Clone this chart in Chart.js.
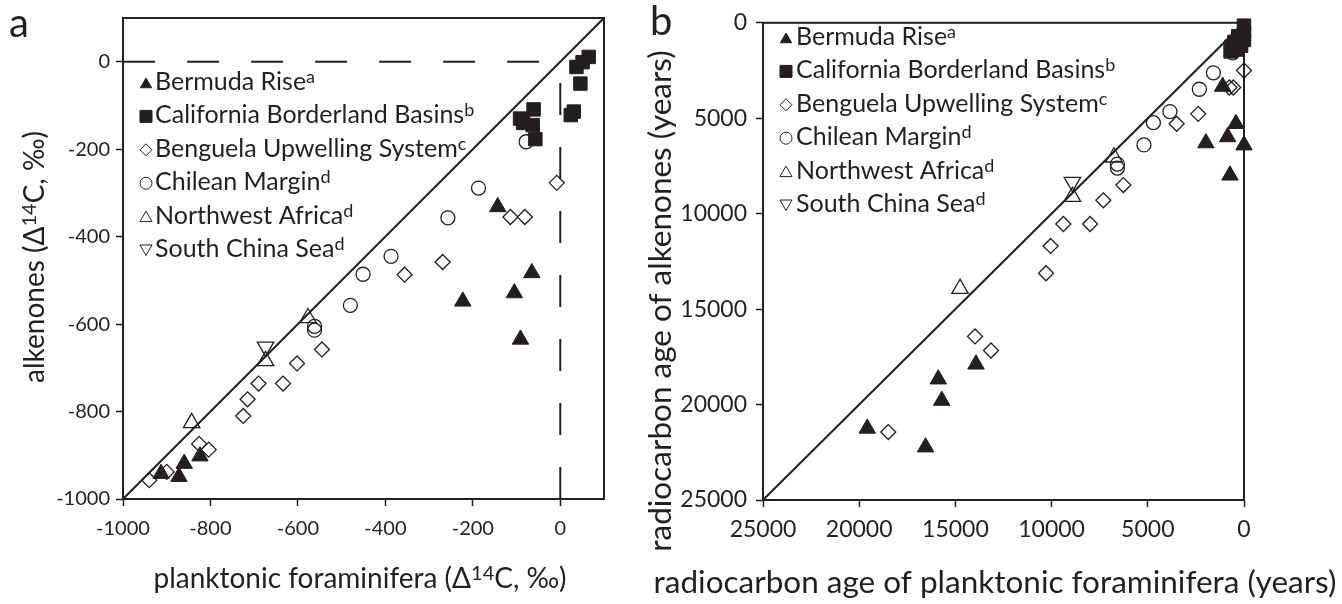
<!DOCTYPE html>
<html><head><meta charset="utf-8">
<script src="https://cdn.jsdelivr.net/npm/chart.js@4.4.1/dist/chart.umd.min.js"></script>
<style>
html,body{margin:0;padding:0;background:#fff;width:1342px;height:604px;overflow:hidden}
canvas{position:absolute;top:0}
#ca{left:0}
#cb{left:620px}
</style></head><body>
<canvas id="ca" width="620" height="604"></canvas>
<canvas id="cb" width="722" height="604"></canvas>
<script>
// ---------- data ----------
const seriesNames = ['Bermuda Rise^{a}', 'California Borderland Basins^{b}', 'Benguela Upwelling System^{c}',
  'Chilean Margin^{d}', 'Northwest Africa^{d}', 'South China Sea^{d}'];

// panel a (Δ14C, ‰)
const xTicksA = [-1000, -800, -600, -400, -200, 0];
const yTicksA = [-1000, -800, -600, -400, -200, 0];
const rangeA = [-1000, 100];
const oneToOneA = [-1000, 100];
const zeroLineA = [-1000, 0];
const bermudaA = [[-913,-942],[-872,-949],[-860,-919],[-824,-902],[-143,-332],[-65,-483],[-105,-529],[-223,-548],[-91,-635]];
const californiaA = [[65,11],[37,-12],[51,-1],[46,-50],[31,-114],[24,-122],[-61,-109],[-92,-130],[-85,-140],[-63,-145],[-57,-177]];
const benguelaA = [[-940,-957],[-900,-938],[-826,-874],[-804,-887],[-725,-810],[-715,-772],[-690,-736],[-634,-736],[-602,-690],[-545,-658],[-356,-487],[-269,-458],[-114,-355],[-81,-355],[-8,-277]];
const chileanA = [[-562,-605],[-562,-614],[-480,-557],[-451,-486],[-387,-445],[-257,-357],[-187,-289],[-78,-183]];
const nwAfricaA = [[-843,-826],[-674,-684],[-577,-586]];
const southChinaA = [[-674,-652]];

// panel b (radiocarbon age, years)
const xTicksB = [25000, 20000, 15000, 10000, 5000, 0];
const yTicksB = [0, 5000, 10000, 15000, 20000, 25000];
const rangeB = [0, 25000];
const oneToOneB = [25000, 0];
const bermudaB = [[13930,17890],[15890,18670],[15710,19790],[19580,21250],[16550,22230],[1110,3340],[420,5290],[850,5980],[1980,6300],[0,6410],[730,7990]];
const californiaB = [[0,150],[0,500],[0,900],[150,1200],[300,700],[500,1000],[650,1250],[700,1500],[400,1400],[200,1000]];
const benguelaB = [[0,2500],[760,3390],[560,3390],[2380,4770],[3500,5290],[6270,8500],[7310,9300],[8000,10540],[9390,10540],[10050,11690],[10290,13120],[13980,16430],[13150,17170],[18490,21440]];
const chileanB = [[590,1580],[1590,2620],[2320,3480],[3850,4650],[4710,5230],[5200,6400],[6580,7400],[6580,7610]];
const nwAfricaB = [[6760,7045],[8920,9110],[14760,13930]];
const southChinaB = [[8920,8350]];

// texts
const panelLetters = ['a', 'b'];
const xTitleA = 'planktonic foraminifera (Δ^{14}C, ‰)';
const yTitleA = 'alkenones (Δ^{14}C, ‰)';
const xTitleB = 'radiocarbon age of planktonic foraminifera (years)';
const yTitleB = 'radiocarbon age of alkenones (years)';

// ---------- styling ----------
const FONT = 'Lato, "Open Sans", sans-serif';
const INK = '#231f20';
const LEG_FS = 25;
Chart.defaults.font.family = FONT;
Chart.defaults.color = INK;

const markerStyles = [
  {pointStyle:'triangle', radius:9.5, rotation:0, fill:INK, bw:1, legendR:6.5, dy:1.5},
  {pointStyle:'rect', radius:9.5, rotation:0, fill:INK, bw:1, legendR:8.5, dy:0},
  {pointStyle:'rectRot', radius:7.5, rotation:0, fill:'rgba(0,0,0,0)', bw:1.3, legendR:6, dy:0},
  {pointStyle:'circle', radius:7, rotation:0, fill:'rgba(0,0,0,0)', bw:1.3, legendR:6, dy:0},
  {pointStyle:'triangle', radius:9.5, rotation:0, fill:'rgba(0,0,0,0)', bw:1.3, legendR:7, dy:1.5},
  {pointStyle:'triangle', radius:9.5, rotation:180, fill:'rgba(0,0,0,0)', bw:1.3, legendR:7, dy:-1.5}
];

const toPts = arr => arr.map(([x, y]) => ({x, y}));

function scatterSets(seriesArrays) {
  return seriesArrays.map((arr, i) => {
    const s = markerStyles[i];
    return {
      label: seriesNames[i].replace(/\^\{[^}]*\}/g, ''),
      data: toPts(arr),
      showLine: false,
      pointStyle: s.pointStyle,
      pointRadius: s.radius,
      pointRotation: s.rotation,
      pointBackgroundColor: s.fill,
      pointBorderColor: INK,
      pointBorderWidth: s.bw,
      pointHoverRadius: s.radius,
      clip: false
    };
  });
}

function lineSet(pts, dash) {
  return {
    type: 'line', label: '', data: pts, showLine: true, pointRadius: 0, pointHoverRadius: 0,
    borderColor: INK, borderWidth: 2, borderDash: dash || [], fill: false, tension: 0
  };
}

// ---------- rich text ----------
function parseRich(s) {
  const parts = []; const re = /\^\{([^}]*)\}/g; let last = 0, m;
  while ((m = re.exec(s))) {
    if (m.index > last) parts.push({t: s.slice(last, m.index), sup: false});
    parts.push({t: m[1], sup: true}); last = re.lastIndex;
  }
  if (last < s.length) parts.push({t: s.slice(last), sup: false});
  return parts;
}
function drawRich(ctx, s, x, y, size, align, rot) {
  const parts = parseRich(s);
  const supSize = Math.round(size * 0.7);
  let w = 0;
  parts.forEach(p => { ctx.font = (p.sup ? supSize : size) + 'px ' + FONT; p.w = ctx.measureText(p.t).width; w += p.w; });
  ctx.save();
  ctx.translate(x, y); ctx.rotate(rot || 0);
  let cx = align === 'center' ? -w / 2 : (align === 'right' ? -w : 0);
  ctx.fillStyle = INK; ctx.textBaseline = 'alphabetic'; ctx.textAlign = 'left';
  parts.forEach(p => {
    ctx.font = (p.sup ? supSize : size) + 'px ' + FONT;
    ctx.fillText(p.t, cx, p.sup ? -Math.round(size * 0.27) : 0);
    cx += p.w;
  });
  ctx.restore();
}

const decor = {
  id: 'decor',
  beforeDatasetsDraw(chart) {
    const {ctx, chartArea: a} = chart;
    ctx.save(); ctx.strokeStyle = INK; ctx.lineWidth = 2;
    ctx.strokeRect(a.left, a.top, a.right - a.left, a.bottom - a.top);
    ctx.restore();
  },
  afterDraw(chart, args, o) {
    const ctx = chart.ctx;
    ctx.save(); ctx.fillStyle = INK; ctx.font = '40px ' + FONT; ctx.textBaseline = 'alphabetic';
    ctx.fillText(o.letter, o.letterX, o.letterY); ctx.restore();
    drawRich(ctx, o.xTitle, o.xTitleX, o.xTitleY, o.titleFs, 'center', 0);
    drawRich(ctx, o.yTitle, o.yTitleX, o.yTitleY, o.titleFs, 'center', -Math.PI / 2);
    seriesNames.forEach((name, i) => {
      const s = markerStyles[i];
      const by = o.legY + i * o.legStep;
      ctx.save();
      ctx.fillStyle = s.fill; ctx.strokeStyle = INK; ctx.lineWidth = 1;
      Chart.helpers.drawPoint(ctx, {pointStyle: s.pointStyle, radius: s.legendR, rotation: s.rotation, borderWidth: 1}, o.legMarkX, by - 7 + s.dy);
      ctx.restore();
      drawRich(ctx, name, o.legTextX, by, LEG_FS, 'left', 0);
    });
  }
};

function axis(ticksArr, range, reverse, fit, fs, pad) {
  return {
    type: 'linear', min: range[0], max: range[1], reverse: reverse,
    afterBuildTicks: s => { s.ticks = ticksArr.map(v => ({value: v})); },
    afterFit: fit,
    ticks: { autoSkip: false, maxRotation: 0, minRotation: 0, font: {family: FONT, size: fs}, color: INK,
      padding: pad, callback: v => String(v) },
    grid: { drawOnChartArea: false, drawTicks: true, tickLength: 7, tickColor: INK, tickWidth: 1.5 },
    border: { display: false }
  };
}

// ---------- chart a ----------
new Chart(document.getElementById('ca'), {
  type: 'scatter',
  data: { datasets: [
    ...scatterSets([bermudaA, californiaA, benguelaA, chileanA, nwAfricaA, southChinaA]),
    lineSet([{x: oneToOneA[0], y: oneToOneA[0]}, {x: oneToOneA[1], y: oneToOneA[1]}]),
    lineSet([{x: zeroLineA[0], y: 0}, {x: zeroLineA[1], y: 0}], [32, 32]),
    lineSet([{x: 0, y: zeroLineA[0]}, {x: 0, y: zeroLineA[1]}], [32, 32])
  ]},
  options: {
    responsive: false, animation: false, events: [],
    layout: { padding: { top: 15, right: 16, bottom: 0, left: 0 } },
    plugins: {
      legend: { display: false }, tooltip: { enabled: false },
      decor: { letter: panelLetters[0], letterX: 9, letterY: 37, titleFs: 28,
        xTitle: xTitleA, xTitleX: 360, xTitleY: 588,
        yTitle: yTitleA, yTitleX: 44, yTitleY: 257,
        legY: 90, legStep: 33.4, legMarkX: 146, legTextX: 155 }
    },
    scales: {
      x: axis(xTicksA, rangeA, false, s => { s.height = 105; }, 20, 11),
      y: axis(yTicksA, rangeA, false, s => { s.width = 123; }, 20, 6)
    }
  },
  plugins: [decor]
});

// ---------- chart b ----------
new Chart(document.getElementById('cb'), {
  type: 'scatter',
  data: { datasets: [
    ...scatterSets([bermudaB, californiaB, benguelaB, chileanB, nwAfricaB, southChinaB]),
    lineSet([{x: oneToOneB[0], y: oneToOneB[0]}, {x: oneToOneB[1], y: oneToOneB[1]}])
  ]},
  options: {
    responsive: false, animation: false, events: [],
    layout: { padding: { top: 16, right: 98, bottom: 0, left: 0 } },
    plugins: {
      legend: { display: false }, tooltip: { enabled: false },
      decor: { letter: panelLetters[1], letterX: 30, letterY: 35, titleFs: 31.5,
        xTitle: xTitleB, xTitleX: 375, xTitleY: 593,
        yTitle: yTitleB, yTitleX: 51, yTitleY: 301,
        legY: 45, legStep: 33.4, legMarkX: 166, legTextX: 176 }
    },
    scales: {
      x: axis(xTicksB, rangeB, true, s => { s.height = 104; }, 23, 9),
      y: axis(yTicksB, rangeB, true, s => { s.width = 143; }, 23, 9)
    }
  },
  plugins: [decor]
});
</script>
</body></html>
